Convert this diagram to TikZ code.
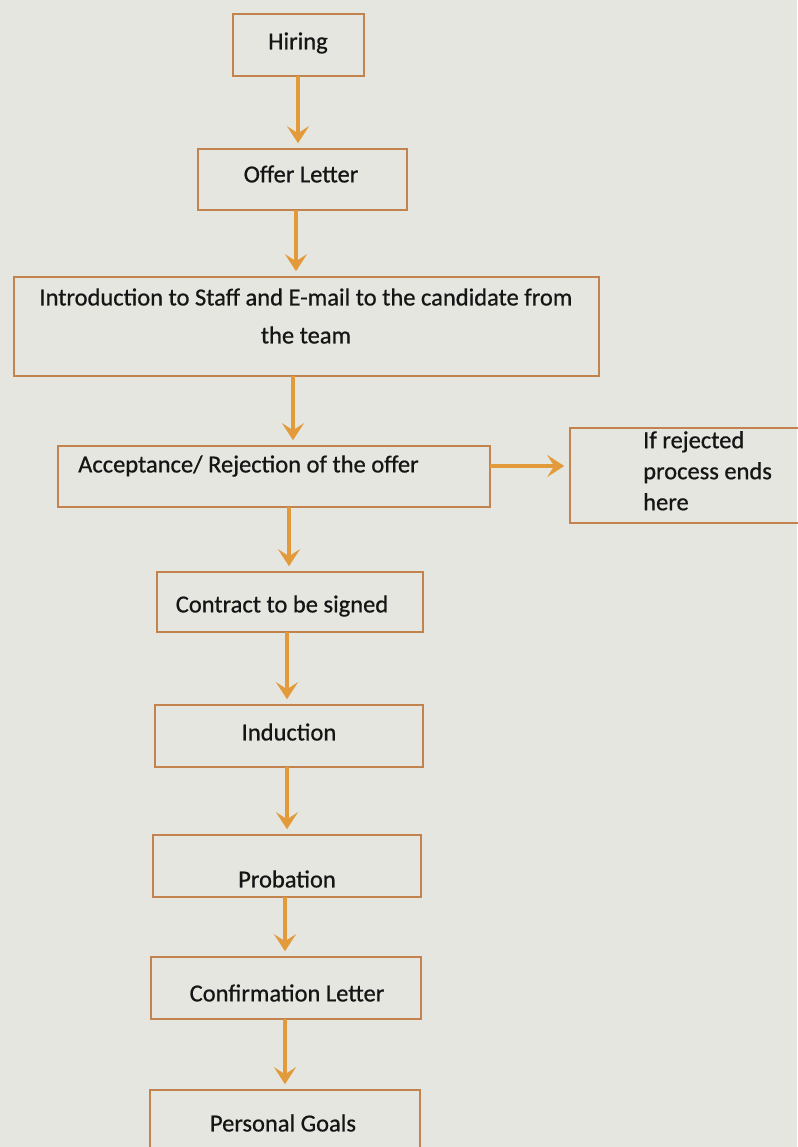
\documentclass[tikz,border=0pt]{standalone}
\usepackage{fontspec}
\setmainfont{Carlito}
\newfontfamily\semib[FakeBold=0.7]{Carlito}
\usetikzlibrary{arrows.meta}
\definecolor{paper}{HTML}{E4E6DF}
\definecolor{boxc}{HTML}{C2834E}
\definecolor{arrc}{HTML}{E29A3A}
\definecolor{ink}{HTML}{151515}
\begin{document}
\begin{tikzpicture}[x=1pt,y=-1pt,
  box/.style={draw=boxc,line width=1.6pt,inner sep=0pt},
  lbl/.style={text=ink,font=\semib\fontsize{24.5}{38}\selectfont,inner sep=0pt},
  arr/.style={draw=arrc,line width=4.5pt,shorten >=5pt,-{Stealth[width=22pt,length=17pt,inset=7pt]}}]
\fill[paper] (0,0) rectangle (797,1147);
\useasboundingbox (0,0) rectangle (797,1147);
% boxes
\node[box,minimum width=131pt,minimum height=62pt] (hiring) at (298.5,45) {};
\node[lbl] (thiring) at (298,43) {Hiring};
\node[box,minimum width=209pt,minimum height=61pt] (offer) at (302.5,179.5) {};
\node[lbl] (toffer) at (301,174) {Offer Letter};
\node[box,minimum width=585pt,minimum height=99pt] (intro) at (306.5,326.5) {};
\node[lbl,align=center] (tintro) at (306,316) {Introduction to Staff and E-mail to the candidate from\\the team};
\node[box,minimum width=432pt,minimum height=61pt] (accept) at (274,476.5) {};
\node[lbl,anchor=west] (taccept) at (78,466) {Acceptance/ Rejection of the offer};
\node[box,minimum width=240pt,minimum height=95pt] (reject) at (690,475.5) {};
\node[lbl,anchor=north west,align=left,font=\semib\fontsize{24.5}{31}\selectfont] (treject) at (643,431) {If rejected\\process ends\\here};
\node[box,minimum width=266pt,minimum height=60pt] (contract) at (290,602) {};
\node[lbl] (tcontract) at (282,606) {Contract to be signed};
\node[box,minimum width=268pt,minimum height=62pt] (induction) at (289,736) {};
\node[lbl] (tinduction) at (289,732) {Induction};
\node[box,minimum width=268pt,minimum height=62pt] (probation) at (287,866) {};
\node[lbl] (tprobation) at (287,879) {Probation};
\node[box,minimum width=270pt,minimum height=62pt] (confirm) at (286,988) {};
\node[lbl] (tconfirm) at (287,993) {Confirmation Letter};
\node[box,minimum width=270pt,minimum height=80pt] (goals) at (285,1130) {};
\node[lbl] (tgoals) at (283,1123) {Personal Goals};
% arrows
\coordinate (a1) at (298,76);
\draw[arr] (a1) -- (a1 |- offer.north);
\coordinate (a2) at (296,210);
\draw[arr] (a2) -- (a2 |- intro.north);
\coordinate (a3) at (293,376);
\draw[arr] (a3) -- (a3 |- accept.north);
\coordinate (a4) at (289,507);
\draw[arr] (a4) -- (a4 |- contract.north);
\coordinate (a5) at (287,632);
\draw[arr] (a5) -- (a5 |- induction.north);
\coordinate (a6) at (287,767);
\draw[arr] (a6) -- (a6 |- probation.north);
\coordinate (a7) at (285,897);
\draw[arr] (a7) -- (a7 |- confirm.north);
\coordinate (a8) at (285,1019);
\draw[arr] (a8) -- (a8 |- goals.north);
\coordinate (a9) at (490,466);
\draw[arr] (a9) -- (a9 -| reject.west);
\end{tikzpicture}
\end{document}
